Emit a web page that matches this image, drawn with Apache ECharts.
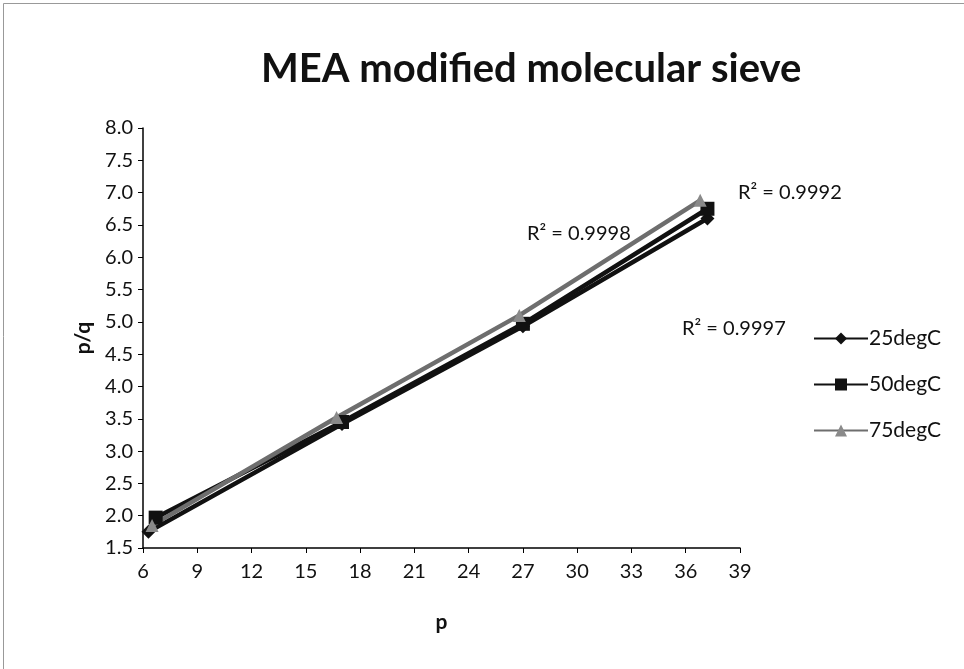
<!DOCTYPE html>
<html><head><meta charset="utf-8">
<script src="https://cdn.jsdelivr.net/npm/echarts@6/dist/echarts.min.js"></script>
<style>html,body{margin:0;padding:0;background:#fff}#c{width:964px;height:669px}</style>
</head><body><div id="c"></div>
<script>
const seriesNames = ['25degC', '50degC', '75degC'];
const s25 = [[6.3, 1.75], [17.0, 3.42], [27.0, 4.93], [37.2, 6.60]];
const s50 = [[6.7, 1.97], [17.0, 3.45], [27.0, 4.97], [37.2, 6.75]];
const s75 = [[6.5, 1.85], [16.7, 3.52], [26.8, 5.10], [36.8, 6.88]];
const r2Labels = ['R² = 0.9992', 'R² = 0.9998', 'R² = 0.9997'];
const titleText = 'MEA modified molecular sieve';

const font = 'Lato, "Open Sans", sans-serif';
const chart = echarts.init(document.getElementById('c'));
chart.setOption({
  animation: false,
  backgroundColor: '#fff',
  title: { text: titleText, left: 256, top: 44,
    textStyle: { fontFamily: font, fontWeight: 'bold', fontSize: 40, color: '#111' } },
  grid: { left: 143, right: 224, top: 128, bottom: 121 },
  legend: {
    orient: 'vertical', left: 808, top: 323, itemGap: 25, itemWidth: 54, itemHeight: 15,
    data: seriesNames,
    textStyle: { fontFamily: font, fontSize: 21, color: '#111', padding: [0, 0, 0, -4] }
  },
  xAxis: {
    type: 'value', min: 6, max: 39, interval: 3,
    name: 'p', nameLocation: 'middle', nameGap: 64,
    nameTextStyle: { fontFamily: font, fontWeight: 'bold', fontSize: 21, color: '#111' },
    axisLine: { lineStyle: { color: '#000', width: 1.5 } },
    axisTick: { show: true, length: 5, lineStyle: { color: '#000' } },
    axisLabel: { fontFamily: font, fontSize: 20, color: '#111', margin: 14 },
    splitLine: { show: false }
  },
  yAxis: {
    type: 'value', min: 1.5, max: 8, interval: 0.5,
    name: 'p/q', nameLocation: 'middle', nameGap: 45, nameRotate: 90,
    nameTextStyle: { fontFamily: font, fontWeight: 'bold', fontSize: 21, color: '#111' },
    axisLine: { show: true, lineStyle: { color: '#000', width: 1.5 } },
    axisTick: { show: true, length: 5, lineStyle: { color: '#000' } },
    axisLabel: { fontFamily: font, fontSize: 20, color: '#111', margin: 10,
      formatter: v => v.toFixed(1) },
    splitLine: { show: false }
  },
  series: [
    { name: seriesNames[0], type: 'line', data: s25, symbol: 'diamond', symbolSize: 14,
      lineStyle: { color: '#111', width: 4.5 }, itemStyle: { color: '#111' } },
    { name: seriesNames[1], type: 'line', data: s50, symbol: 'rect', symbolSize: 14,
      lineStyle: { color: '#111', width: 4.5 }, itemStyle: { color: '#111' } },
    { name: seriesNames[2], type: 'line', data: s75, symbol: 'triangle', symbolSize: 13,
      lineStyle: { color: '#6e6e6e', width: 4.5 }, itemStyle: { color: '#8a8a8a' } }
  ],
  graphic: [
    { type: 'rect', left: 1, top: 1, shape: { width: 961, height: 666 },
      style: { fill: 'none', stroke: '#999', lineWidth: 1 } },
    { type: 'text', left: 738, top: 183, style: { text: r2Labels[0], fontFamily: font, fontSize: 20, fill: '#111' } },
    { type: 'text', left: 527, top: 224, style: { text: r2Labels[1], fontFamily: font, fontSize: 20, fill: '#111' } },
    { type: 'text', left: 682, top: 319, style: { text: r2Labels[2], fontFamily: font, fontSize: 20, fill: '#111' } }
  ]
});
</script></body></html>
